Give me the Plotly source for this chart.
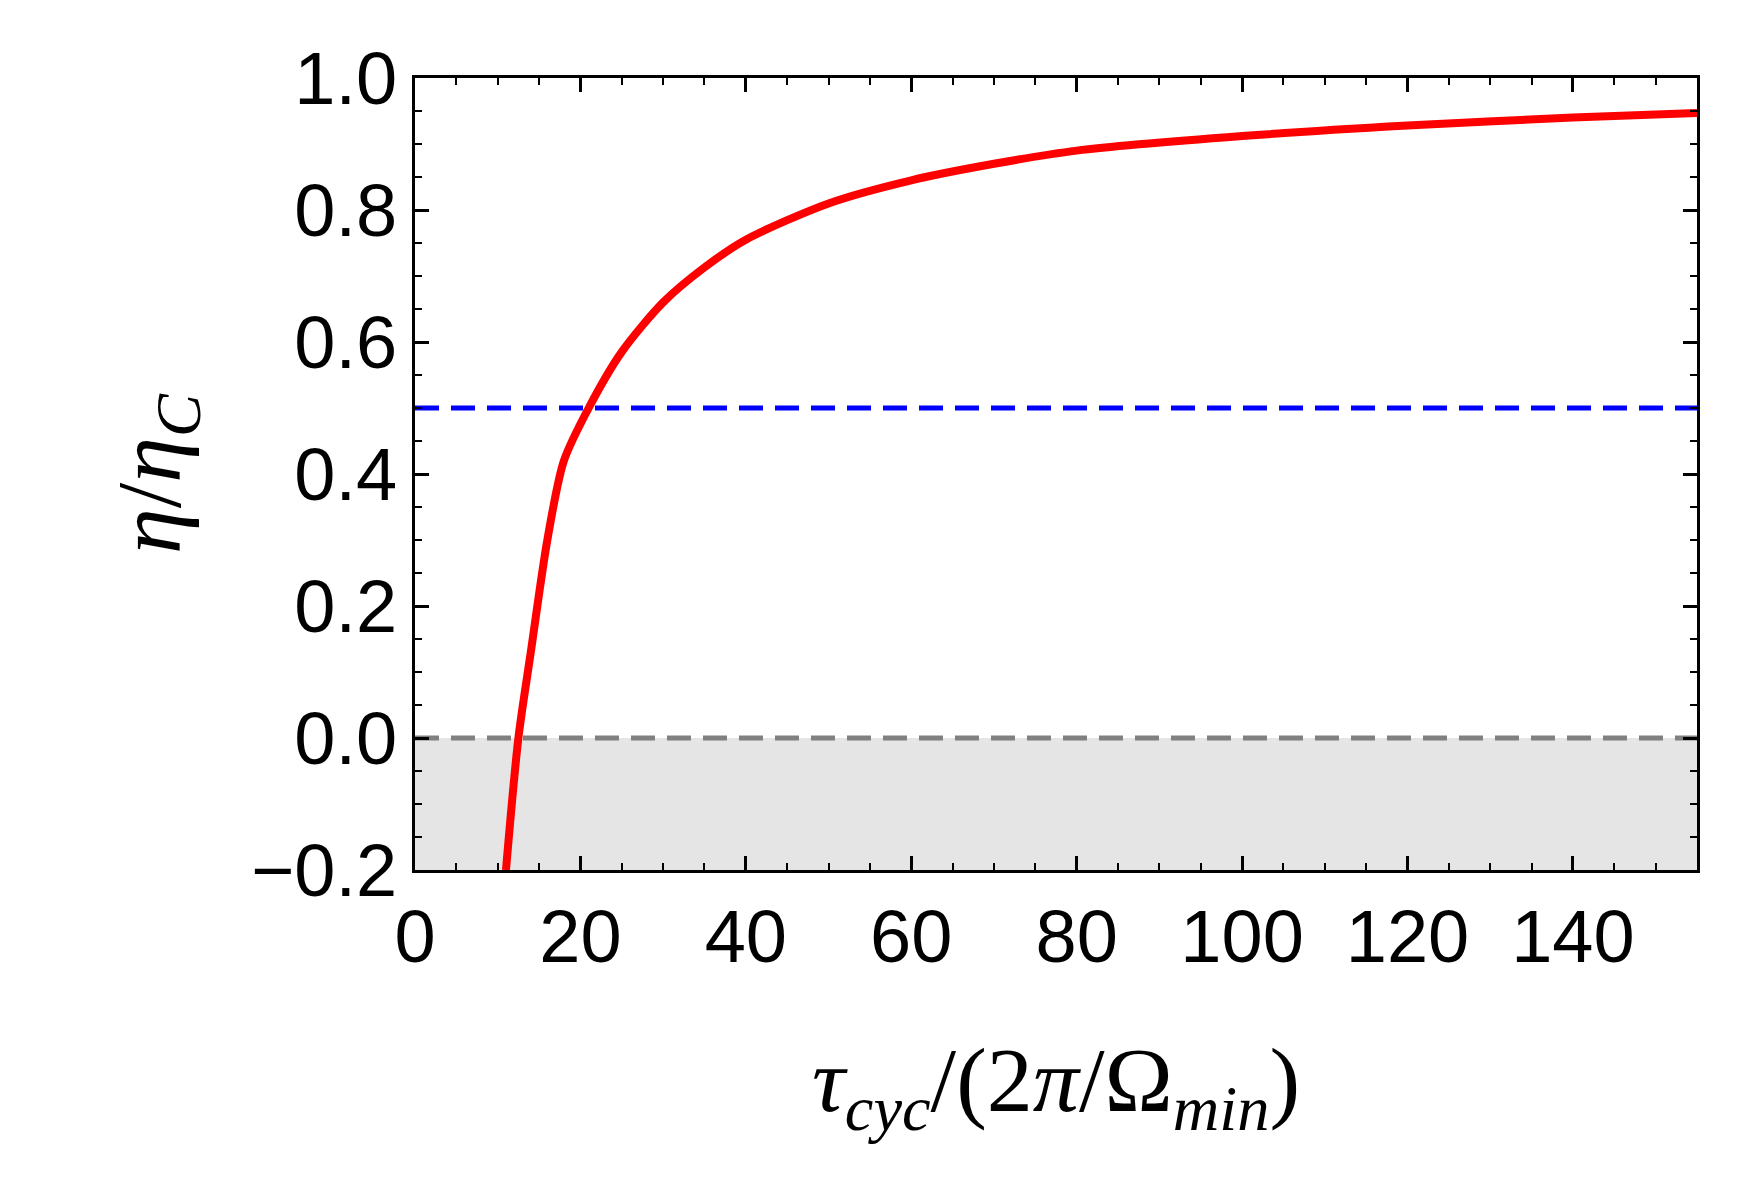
import plotly.graph_objects as go

tau = [11.0, 12.5, 14, 16, 18, 21, 25, 30, 35, 40, 50, 60, 70, 80, 100, 120, 140, 155]
eff = [-0.2, 0.0, 0.13, 0.30, 0.42, 0.50, 0.585, 0.66, 0.713, 0.755, 0.81, 0.845, 0.87, 0.89, 0.912, 0.928, 0.94, 0.947]
x_max = 155
half = 0.5

fig = go.Figure()
fig.add_shape(type="rect", xref="x", yref="y", x0=0, x1=x_max, y0=-0.2, y1=0,
              fillcolor="#e5e5e5", line_width=0, layer="below")
fig.add_trace(go.Scatter(x=[0, x_max], y=[0, 0], mode="lines",
                         line=dict(color="#808080", width=5, dash="24px,12px"), cliponaxis=False))
fig.add_trace(go.Scatter(x=[0, x_max], y=[half, half], mode="lines",
                         line=dict(color="#0000ff", width=5, dash="24px,12px"), cliponaxis=False))
fig.add_trace(go.Scatter(x=tau, y=eff, mode="lines", line=dict(color="#ff0000", width=8, shape="spline", smoothing=0.8),
                         cliponaxis=True))

axis_common = dict(showgrid=False, zeroline=False, showline=True, linecolor="black", linewidth=3,
                   mirror="allticks", ticks="inside", ticklen=14, tickwidth=2.5, tickcolor="black",
                   tickfont=dict(family="Liberation Sans", size=74, color="black"))
fig.update_xaxes(range=[0, x_max], tickvals=[0, 20, 40, 60, 80, 100, 120, 140],
                 minor=dict(dtick=5, tick0=0, ticks="inside", ticklen=7, tickwidth=2, tickcolor="black"),
                 title=dict(text="<i>τ<sub>cyc</sub></i>/(2<i>π</i>/Ω<sub><i>min</i></sub>)",
                            font=dict(family="Liberation Serif", size=92, color="black"), standoff=70),
                 **axis_common)
fig.update_yaxes(range=[-0.2, 1.0], tickvals=[-0.2, 0, 0.2, 0.4, 0.6, 0.8, 1.0], tickformat=".1f",
                 minor=dict(dtick=0.05, tick0=0, ticks="inside", ticklen=7, tickwidth=2, tickcolor="black"),
                 title=dict(text="<i>η</i>/<i>η<sub>C</sub></i>",
                            font=dict(family="Liberation Serif", size=92, color="black"), standoff=40),
                 **axis_common)
fig.update_layout(width=1760, height=1183, showlegend=False, plot_bgcolor="white", paper_bgcolor="white",
                  margin=dict(l=407, r=71, t=70, b=321))
fig.write_html("out.html")
